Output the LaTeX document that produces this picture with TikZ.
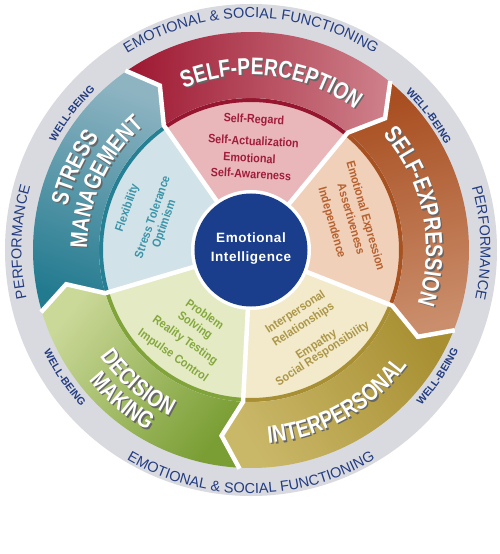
\documentclass[tikz,border=0pt]{standalone}
\usepackage{fontspec}
\usetikzlibrary{decorations.text}
\setmainfont{Liberation Sans}
\newfontfamily\bandfamily[FakeStretch=0.8]{Liberation Sans}
\newfontfamily\piefamily[FakeStretch=0.9]{Liberation Sans}
\newfontfamily\ctrfamily[LetterSpace=4]{Liberation Sans}
\newcommand{\bandfnt}{\bandfamily\bfseries\fontsize{24}{28}\selectfont}
\newcommand{\piefnt}{\piefamily\bfseries\fontsize{12}{14}\selectfont}
\newcommand{\ctrfnt}{\ctrfamily\bfseries\fontsize{13.5}{16}\selectfont}
\newcommand{\ringfnt}{\fontsize{14.5}{16}\selectfont}
\newcommand{\wbfnt}{\bfseries\fontsize{10.5}{12}\selectfont}

\definecolor{ringgray}{RGB}{217,218,223}
\definecolor{ringblue}{RGB}{35,60,130}
\definecolor{ctrblue}{RGB}{27,62,140}
% self-perception
\definecolor{spdark}{RGB}{158,24,50}
\definecolor{splight}{RGB}{206,128,138}
\definecolor{sppale}{RGB}{233,183,186}
\definecolor{spring}{RGB}{150,22,48}
\definecolor{sptext}{RGB}{160,28,58}
% self-expression
\definecolor{sedark}{RGB}{168,78,32}
\definecolor{selight}{RGB}{202,142,108}
\definecolor{sepale}{RGB}{241,208,186}
\definecolor{sering}{RGB}{168,82,34}
\definecolor{setext}{RGB}{182,96,46}
% interpersonal
\definecolor{ipdark}{RGB}{168,143,50}
\definecolor{iplight}{RGB}{202,184,105}
\definecolor{ippale}{RGB}{242,234,202}
\definecolor{ipring}{RGB}{168,143,52}
\definecolor{iptext}{RGB}{172,150,72}
% decision making
\definecolor{dmdark}{RGB}{122,158,52}
\definecolor{dmlight}{RGB}{202,216,152}
\definecolor{dmpale}{RGB}{228,234,195}
\definecolor{dmring}{RGB}{128,163,58}
\definecolor{dmtext}{RGB}{132,168,62}
% stress management
\definecolor{smdark}{RGB}{34,122,143}
\definecolor{smlight}{RGB}{142,180,194}
\definecolor{smpale}{RGB}{210,226,233}
\definecolor{smring}{RGB}{38,128,148}
\definecolor{smtext}{RGB}{58,148,168}

\newcommand{\bandseg}[5]{%
  \shade[top color=#3, bottom color=#4, shading angle=#5]
    (#1:218pt) arc[start angle=#1, end angle=#2, radius=218pt]
    -- ({#2-6}:188pt) -- (#2:152pt)
    arc[start angle=#2, end angle=#1, radius=152pt]
    -- ({#1-6}:188pt) -- cycle;}
\newcommand{\palesec}[4]{%
  \fill[#3] (0,0) -- (#1:148.5pt) arc[start angle=#1, end angle=#2, radius=148.5pt] -- cycle;
  \draw[#4, line width=4pt] (#1:150pt) arc[start angle=#1, end angle=#2, radius=150pt];
  \draw[white, opacity=0.55, line width=1pt] (#1:152.6pt) arc[start angle=#1, end angle=#2, radius=152.6pt];}
\newcommand{\divline}[1]{%
  \draw[white, line width=4.5pt, line join=miter] (#1:219pt) -- ({#1-6}:188pt) -- (#1:152pt) -- (#1:45pt);}
\newcommand{\arctext}[6]{%
  \path[decorate, decoration={text along path, text align=center, text color=#4, text={|#5|#6}}]
    (#1:#3pt) arc[start angle=#1, end angle=#2, radius=#3pt];}
\newcommand{\bandlabel}[4]{%
  \begin{scope}[xshift=1.4pt, yshift=-1.4pt]\arctext{#1}{#2}{#3}{black!60}{\bandfnt}{#4}\end{scope}
  \arctext{#1}{#2}{#3}{white}{\bandfnt}{#4}}

\begin{document}
\begin{tikzpicture}[x=1pt, y=1pt,
  pietext/.style={font=\piefnt, text height=8.5pt, text depth=0pt, inner sep=0pt},
  ctrtext/.style={font=\ctrfnt, text=white, inner sep=0pt, anchor=base}]
\fill[white] (-251,-304) rectangle (249,250);
\useasboundingbox (-251,-304) rectangle (249,250);

% outer ring
\fill[ringgray] (0,0) circle (246pt);

% pale sectors with dark rings
\palesec{50.5}{125}{sppale}{spring}
\palesec{-21.5}{50.5}{sepale}{sering}
\palesec{267}{338.5}{ippale}{ipring}
\palesec{196.5}{267}{dmpale}{dmring}
\palesec{125}{196.5}{smpale}{smring}

% coloured bands
\bandseg{50.5}{125}{spdark}{splight}{87.75}
\bandseg{-21.5}{50.5}{sedark}{selight}{14.5}
\bandseg{267}{338.5}{ipdark}{iplight}{302.75}
\bandseg{196.5}{267}{dmdark}{dmlight}{231.75}
\bandseg{125}{196.5}{smdark}{smlight}{160.75}

% white dividers
\divline{50.5}
\divline{125}
\divline{196.5}
\divline{267}
\divline{338.5}

% centre
\fill[white] (0,0) circle (60pt);
\fill[ctrblue] (0,0) circle (56.5pt);
\node[ctrtext] (ei1) at (0,8) {Emotional};
\node[ctrtext] (ei2) at (0,-11.5) {Intelligence};

% band labels
\bandlabel{153}{13}{175}{SELF-PERCEPTION}
\bandlabel{81.6}{-58.4}{175}{SELF-EXPRESSION}
\bandlabel{229.4}{369.4}{194}{INTERPERSONAL}
\bandlabel{169.5}{289.5}{185}{DECISION}
\bandlabel{169.5}{289.5}{208}{MAKING}
\bandlabel{225}{85}{189}{STRESS}
\bandlabel{225}{85}{164}{MANAGEMENT}

% pie texts
\node[pietext, text=sptext, rotate=-3] (sp1) at (3,131) {Self-Regard};
\node[pietext, text=sptext, rotate=-3] (sp2) at (2.5,109) {Self-Actualization};
\node[pietext, text=sptext, rotate=-3] (sp3) at (-1.5,92) {Emotional};
\node[pietext, text=sptext, rotate=-3] (sp4) at (0,76) {Self-Awareness};

\node[pietext, text=setext, rotate=-74] (se1) at (115,34.5) {Emotional Expression};
\node[pietext, text=setext, rotate=-74] (se2) at (100.5,31) {Assertiveness};
\node[pietext, text=setext, rotate=-74] (se3) at (81.5,27.5) {Independence};

\node[pietext, text=iptext, rotate=33] (ip1) at (44,-61.5) {Interpersonal};
\node[pietext, text=iptext, rotate=33] (ip2) at (52,-74) {Relationships};
\node[pietext, text=iptext, rotate=33] (ip3) at (65,-94) {Empathy};
\node[pietext, text=iptext, rotate=33] (ip4) at (71,-103) {Social Responsibility};

\node[pietext, text=dmtext, rotate=-35] (dm1) at (-46,-64) {Problem};
\node[pietext, text=dmtext, rotate=-35] (dm2) at (-55.5,-75) {Solving};
\node[pietext, text=dmtext, rotate=-35] (dm3) at (-65.5,-89.5) {Reality Testing};
\node[pietext, text=dmtext, rotate=-35] (dm4) at (-77.5,-105) {Impulse Control};

\node[pietext, text=smtext, rotate=71] (sm1) at (-124.5,42.5) {Flexibility};
\node[pietext, text=smtext, rotate=71] (sm2) at (-99,33) {Stress Tolerance};
\node[pietext, text=smtext, rotate=71] (sm3) at (-87.5,26.5) {Optimism};

% ring texts
\arctext{160}{20}{232}{ringblue}{\ringfnt}{EMOTIONAL {\&} SOCIAL FUNCTIONING}
\arctext{200}{340}{243.5}{ringblue}{\ringfnt}{EMOTIONAL {\&} SOCIAL FUNCTIONING}
\arctext{248}{108}{229.5}{ringblue}{\ringfnt}{PERFORMANCE}
\arctext{71.8}{-68.2}{229.5}{ringblue}{\ringfnt}{PERFORMANCE}
\arctext{182.7}{102.7}{223.5}{ringblue}{\wbfnt}{WELL-BEING}
\arctext{77}{-3}{221}{ringblue}{\wbfnt}{WELL-BEING}
\arctext{174.4}{254.4}{231}{ringblue}{\wbfnt}{WELL-BEING}
\arctext{285.9}{365.9}{230.5}{ringblue}{\wbfnt}{WELL-BEING}
\end{tikzpicture}
\end{document}
